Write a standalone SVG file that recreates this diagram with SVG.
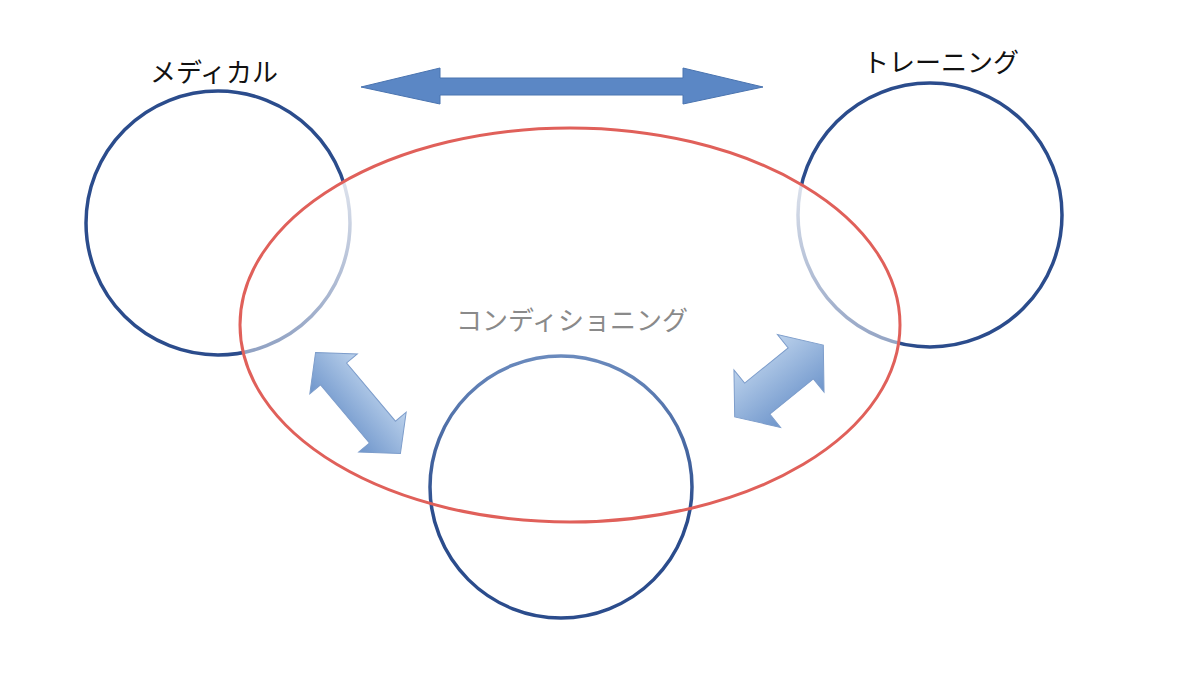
<svg xmlns="http://www.w3.org/2000/svg" width="1200" height="675" viewBox="0 0 1200 675">
  <style>
    .circle { fill: none; stroke: #2b4c8c; stroke-width: 3.5; }
    .label { font-family: "Noto Sans CJK JP", "Noto Sans", sans-serif; font-size: 26px; text-anchor: middle; }
    .dark { fill: #111111; }
    .gray { fill: #8a8a8a; }
    .darrow { fill: url(#arrowGrad); stroke: #7d9dcb; stroke-width: 1; }
  </style>
  <defs>
    <linearGradient id="fade" gradientUnits="userSpaceOnUse" x1="0" y1="128" x2="0" y2="522">
      <stop offset="0" stop-color="#ffffff" stop-opacity="0.95"/>
      <stop offset="1" stop-color="#ffffff" stop-opacity="0.12"/>
    </linearGradient>
    <linearGradient id="bottomStroke" gradientUnits="userSpaceOnUse" x1="0" y1="356" x2="0" y2="520">
      <stop offset="0" stop-color="#6a8abd"/>
      <stop offset="1" stop-color="#2b4c8c"/>
    </linearGradient>
    <linearGradient id="arrowGrad" x1="0" y1="0" x2="0" y2="1">
      <stop offset="0" stop-color="#bcd2ec"/>
      <stop offset="1" stop-color="#6e95cb"/>
    </linearGradient>
  </defs>

  <rect width="1200" height="675" fill="#ffffff"/>

  <g id="medical">
    <circle class="circle" cx="218" cy="223" r="132"/>
  </g>
  <g id="training">
    <circle class="circle" cx="930" cy="215" r="132"/>
  </g>

  <g id="conditioning">
    <ellipse cx="570" cy="325" rx="330" ry="197" fill="url(#fade)" stroke="none"/>
  </g>

  <g id="bottom">
    <circle cx="561" cy="487" r="131" fill="none" stroke="url(#bottomStroke)" stroke-width="3.5"/>
  </g>

  <ellipse cx="570" cy="325" rx="330" ry="197" fill="none" stroke="#e0605a" stroke-width="3"/>

  <g id="connectors">
    <polygon points="361,87 440,68 440,78 683,78 683,68 763,87 683,104 683,95 440,95 440,104" fill="#5b87c5" stroke="#4a74b0" stroke-width="1"/>
    <polygon class="darrow" transform="translate(358,403) rotate(50)" points="-66,0 -38,-31 -38,-17 38,-17 38,-31 66,0 38,31 38,17 -38,17 -38,31"/>
    <polygon class="darrow" transform="translate(779,381) rotate(-39)" points="-57,0 -28,-37 -28,-20 28,-20 28,-37 57,0 28,37 28,20 -28,20 -28,37"/>
  </g>

  <text class="label dark" x="214" y="82">メディカル</text>
  <text class="label dark" x="941" y="72">トレーニング</text>
  <text class="label gray" x="572" y="330">コンディショニング</text>
</svg>
